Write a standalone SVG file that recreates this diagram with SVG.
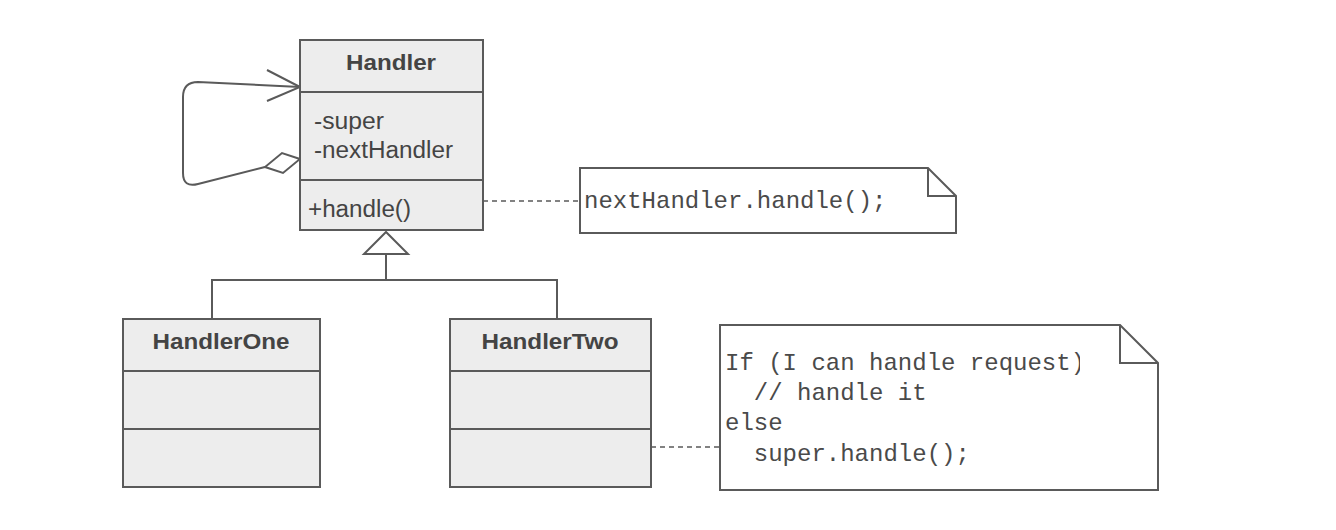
<svg xmlns="http://www.w3.org/2000/svg" width="1336" height="530" viewBox="0 0 1336 530">
<style>
.box{fill:#ededed;stroke:#5a5a5a;stroke-width:2}
.div{stroke:#5a5a5a;stroke-width:2}
.note{fill:#ffffff;stroke:#5a5a5a;stroke-width:2}
.title{font-family:"Liberation Sans",Arial,sans-serif;font-weight:bold;font-size:22px;fill:#444444}
.attr{font-family:"Liberation Sans",Arial,sans-serif;font-size:23px;fill:#444444}
.code{font-family:"Liberation Mono","Courier New",monospace;font-size:24px;fill:#4a4a4a}
.line{fill:none;stroke:#5a5a5a;stroke-width:2}
.dash{fill:none;stroke:#5a5a5a;stroke-width:1.6;stroke-dasharray:5,4}
</style>
<defs>
<clipPath id="clip2"><rect x="720" y="325" width="360" height="165"/></clipPath>
</defs>
<rect width="1336" height="530" fill="#ffffff"/>
<g id="connectors">
<path class="line" d="M 265 167 L 198 184 Q 183 188 183 173 L 183 97 Q 183 82 198 82 L 300 87"/>
<path class="line" d="M 267 70 L 300 87 L 267 101"/>
<polygon class="line" style="fill:#ffffff" points="300,159 282,153 265,167 283,173"/>
<polygon class="line" style="fill:#ffffff" points="386,232 364,254 408,254"/>
<path class="line" d="M 386 254 L 386 280 M 212 319 L 212 280 L 557 280 L 557 319"/>
<path class="dash" d="M 483 201 L 580 201"/>
<path class="dash" d="M 651 447 L 720 447"/>
</g>
<g id="Handler">
<rect class="box" x="300" y="40" width="183" height="190"/>
<line class="div" x1="300" y1="92" x2="483" y2="92"/>
<line class="div" x1="300" y1="180" x2="483" y2="180"/>
<text class="title" x="391" y="70" text-anchor="middle" textLength="90" lengthAdjust="spacingAndGlyphs">Handler</text>
<text class="attr" x="314" y="129" textLength="70" lengthAdjust="spacingAndGlyphs">-super</text>
<text class="attr" x="314" y="158" textLength="139" lengthAdjust="spacingAndGlyphs">-nextHandler</text>
<text class="attr" x="308" y="217" textLength="103" lengthAdjust="spacingAndGlyphs">+handle()</text>
</g>
<g id="HandlerOne">
<rect class="box" x="123" y="319" width="197" height="168"/>
<line class="div" x1="123" y1="371" x2="320" y2="371"/>
<line class="div" x1="123" y1="429" x2="320" y2="429"/>
<text class="title" x="221" y="349" text-anchor="middle" textLength="137" lengthAdjust="spacingAndGlyphs">HandlerOne</text>
</g>
<g id="HandlerTwo">
<rect class="box" x="450" y="319" width="201" height="168"/>
<line class="div" x1="450" y1="371" x2="651" y2="371"/>
<line class="div" x1="450" y1="429" x2="651" y2="429"/>
<text class="title" x="550" y="349" text-anchor="middle" textLength="137" lengthAdjust="spacingAndGlyphs">HandlerTwo</text>
</g>
<g id="Note1">
<path class="note" d="M 580 168 L 928 168 L 956 196 L 956 233 L 580 233 Z"/>
<path class="line" d="M 928 168 L 928 196 L 956 196"/>
<text class="code" x="584" y="208">nextHandler.handle();</text>
</g>
<g id="Note2">
<path class="note" d="M 720 325 L 1120 325 L 1158 363 L 1158 490 L 720 490 Z"/>
<path class="line" d="M 1120 325 L 1120 363 L 1158 363"/>
<g clip-path="url(#clip2)">
<text class="code" x="725" y="370" xml:space="preserve">If (I can handle request)</text>
<text class="code" x="725" y="400" xml:space="preserve">  // handle it</text>
<text class="code" x="725" y="430">else</text>
<text class="code" x="725" y="461" xml:space="preserve">  super.handle();</text>
</g>
</g>
</svg>
